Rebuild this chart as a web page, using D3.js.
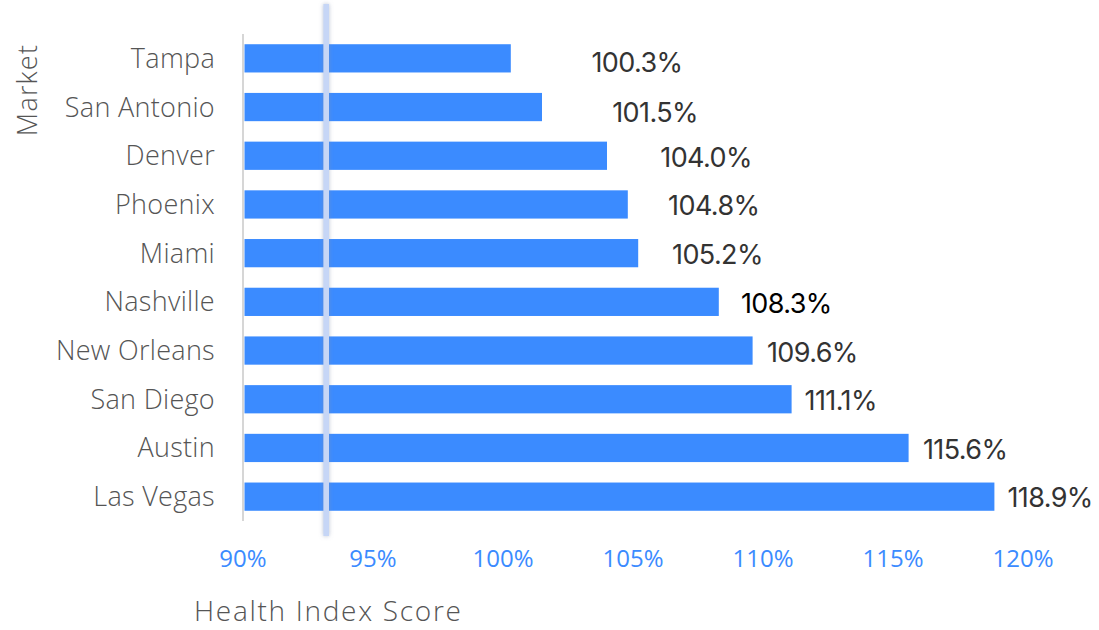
<!DOCTYPE html>
<html>
<head>
<meta charset="utf-8">
<script src="https://cdn.jsdelivr.net/npm/d3@7"></script>
<style>
  html, body { margin: 0; padding: 0; background: #fff; }
  svg { display: block; }
</style>
</head>
<body>
<div id="chart"></div>
<script>
// Data
const markets = ["Tampa", "San Antonio", "Denver", "Phoenix", "Miami",
  "Nashville", "New Orleans", "San Diego", "Austin", "Las Vegas"];
const scores = [100.3, 101.5, 104.0, 104.8, 105.2, 108.3, 109.6, 111.1, 115.6, 118.9];
// where each value label sits (in score units) and its small vertical nudge
const labelAt = [103.4, 104.2, 106.05, 106.35, 106.5, 109.15, 110.15, 111.6, 116.15, 119.4];
const labelDy = [3.5, 5.5, 1.5, 1.3, 1, 1.5, 1.5, 1.5, 1, 0.6];
const xTicks = [90, 95, 100, 105, 110, 115, 120];
const markerScore = 93.2;

const width = 1099, height = 630;

const svg = d3.select("#chart")
  .append("svg")
  .attr("width", width)
  .attr("height", height);

const x = d3.scaleLinear().domain([90, 120]).range([243, 1023]);
const y = d3.scaleBand()
  .domain(markets)
  .range([34, 521])
  .paddingInner(0.42)
  .paddingOuter(0.21);

const defs = svg.append("defs");
const shadow = defs.append("filter")
  .attr("id", "glow")
  .attr("x", "-300%").attr("y", "-5%")
  .attr("width", "700%").attr("height", "110%");
shadow.append("feDropShadow")
  .attr("dx", 0).attr("dy", 0)
  .attr("stdDeviation", 2.2)
  .attr("flood-color", "#7f8fae")
  .attr("flood-opacity", 0.55);

// bars
svg.append("g")
  .selectAll("rect")
  .data(markets)
  .join("rect")
  .attr("x", x(90) + 1.5)
  .attr("y", d => y(d))
  .attr("width", (d, i) => x(scores[i]) - x(90) - 1.5)
  .attr("height", y.bandwidth())
  .attr("fill", "#3b8bff");

// y axis line
svg.append("line")
  .attr("x1", x(90)).attr("x2", x(90))
  .attr("y1", 34).attr("y2", 521)
  .attr("stroke", "#d6d6d6")
  .attr("stroke-width", 2);

// category labels
svg.append("g")
  .selectAll("text")
  .data(markets)
  .join("text")
  .attr("x", 215)
  .attr("y", d => y(d) + y.bandwidth() / 2)
  .attr("dy", "0.35em")
  .attr("text-anchor", "end")
  .attr("font-family", "'Open Sans', sans-serif")
  .attr("font-weight", 300)
  .attr("font-size", "27px")
  .attr("letter-spacing", "0.3px")
  .attr("fill", "#555")
  .text(d => d);

// value labels
svg.append("g")
  .selectAll("text")
  .data(markets)
  .join("text")
  .attr("x", (d, i) => x(labelAt[i]))
  .attr("y", (d, i) => y(d) + y.bandwidth() / 2 + labelDy[i])
  .attr("dy", "0.36em")
  .attr("font-family", "Inter, 'Liberation Sans', sans-serif")
  .attr("font-size", "27px")
  .attr("letter-spacing", "-0.6px")
  .attr("fill", (d, i) => d === "Nashville" ? "#000" : "#333")
  .text((d, i) => scores[i].toFixed(1) + "%");

// x tick labels
svg.append("g")
  .selectAll("text")
  .data(xTicks)
  .join("text")
  .attr("x", d => x(d))
  .attr("y", 567)
  .attr("text-anchor", "middle")
  .attr("font-family", "'Open Sans', sans-serif")
  .attr("font-size", "24px")
  .attr("fill", "#3b8bff")
  .text(d => d + "%");

// highlighted vertical marker
svg.append("rect")
  .attr("x", x(markerScore) - 2.8)
  .attr("y", 4)
  .attr("width", 5.6)
  .attr("height", 532)
  .attr("fill", "#c6d6f6")
  .attr("filter", "url(#glow)");

// axis titles
svg.append("text")
  .attr("x", 194)
  .attr("y", 621)
  .attr("font-family", "'Open Sans', sans-serif")
  .attr("font-weight", 300)
  .attr("font-size", "28px")
  .attr("letter-spacing", "1.7px")
  .attr("fill", "#555")
  .text("Health Index Score");

svg.append("text")
  .attr("transform", "translate(37,90) rotate(-90)")
  .attr("text-anchor", "middle")
  .attr("font-family", "'Open Sans', sans-serif")
  .attr("font-weight", 300)
  .attr("font-size", "27px")
  .attr("letter-spacing", "1.2px")
  .attr("fill", "#555")
  .text("Market");
</script>
</body>
</html>
